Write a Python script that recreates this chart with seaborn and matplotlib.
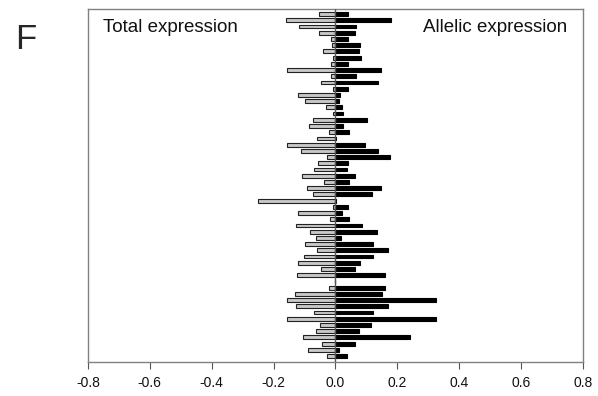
import matplotlib
matplotlib.use("Agg")
import matplotlib.pyplot as plt
import seaborn as sns
import numpy as np
import pandas as pd

# Row order: top to bottom
total_expression = [
    -0.054, -0.159, -0.119, -0.054, -0.014, -0.012, -0.040, -0.008, -0.013,
    -0.157, -0.013, -0.048, -0.009, -0.120, -0.097, -0.030, -0.009, -0.074,
    -0.086, -0.022, -0.060, -0.158, -0.113, -0.029, -0.058, -0.068, -0.109,
    -0.038, -0.091, -0.072, -0.251, -0.007, -0.120, -0.017, -0.126, -0.081,
    -0.062, -0.100, -0.059, -0.102, -0.122, -0.048, -0.125, 0.0, -0.021,
    -0.132, -0.156, -0.126, -0.068, -0.156, -0.049, -0.062, -0.105, -0.043,
    -0.088, -0.029,
]
allelic_expression = [
    0.042, 0.180, 0.065, 0.062, 0.042, 0.078, 0.075, 0.081, 0.041,
    0.146, 0.067, 0.137, 0.039, 0.016, 0.012, 0.020, 0.023, 0.101,
    0.023, 0.045, 0.003, 0.097, 0.137, 0.175, 0.042, 0.038, 0.064,
    0.045, 0.146, 0.117, 0.003, 0.040, 0.020, 0.043, 0.085, 0.133,
    0.018, 0.120, 0.170, 0.120, 0.078, 0.064, 0.160, 0.0, 0.160,
    0.150, 0.325, 0.170, 0.120, 0.325, 0.114, 0.077, 0.240, 0.064,
    0.012, 0.038,
]
rows = list(range(len(total_expression)))
x_ticks = [-0.8, -0.6, -0.4, -0.2, 0.0, 0.2, 0.4, 0.6, 0.8]
x_tick_labels = ["-0.8", "-0.6", "-0.4", "-0.2", "0.0", "0.2", "0.4", "0.6", "0.8"]

df = pd.DataFrame({"row": rows, "total": total_expression, "allelic": allelic_expression})

sns.set_style("white")
plt.rcParams["font.family"] = ["Liberation Sans", "DejaVu Sans"]

fig = plt.figure(figsize=(5.98, 3.96), dpi=100)
ax = fig.add_axes([0.147, 0.086, 0.828, 0.891])

sns.barplot(data=df, y="row", x="total", orient="h", order=rows, width=0.62,
            color="#c8c8c8", edgecolor="#222222", linewidth=0.8,
            errorbar=None, ax=ax, saturation=1)
sns.barplot(data=df, y="row", x="allelic", orient="h", order=rows, width=0.62,
            color="black", edgecolor="black", linewidth=0.8,
            errorbar=None, ax=ax, saturation=1)

ax.axvline(0, color="#555555", linewidth=1.0, zorder=3)

ax.set_xlim(-0.8, 0.8)
ax.set_ylim(len(rows) - 0.05, -0.8)
ax.set_xticks(x_ticks)
ax.set_xticklabels(x_tick_labels, fontsize=10, color="#111111")
ax.set_yticks([])
ax.set_xlabel("")
ax.set_ylabel("")
ax.tick_params(axis="x", direction="out", length=5, width=0.8, color="#555555",
               bottom=True, pad=5)
for sp in ax.spines.values():
    sp.set_color("#808080")
    sp.set_linewidth(1.0)
    sp.set_visible(True)

ax.text(0.03, 0.972, "Total expression", transform=ax.transAxes,
        fontsize=13.5, ha="left", va="top", color="#111111")
ax.text(0.968, 0.972, "Allelic expression", transform=ax.transAxes,
        fontsize=13.5, ha="right", va="top", color="#111111")
fig.text(15 / 598, 1 - 49 / 396, "F", fontsize=25, ha="left", va="baseline")

fig.savefig("out.png", dpi=100)
